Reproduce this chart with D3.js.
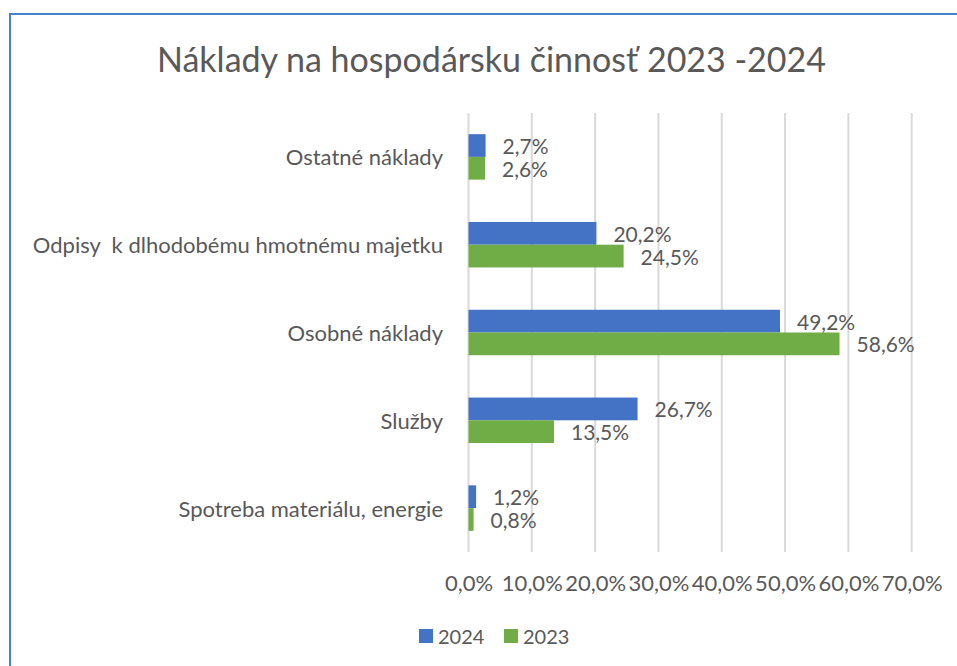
<!DOCTYPE html>
<html>
<head>
<meta charset="utf-8">
<script src="https://cdn.jsdelivr.net/npm/d3@7"></script>
<style>
  html, body { margin: 0; padding: 0; background: #fff; }
  svg { display: block; }
  text { font-family: Lato, "Open Sans", sans-serif; fill: #595959; }
</style>
</head>
<body>
<svg id="chart" width="957" height="666"></svg>
<script>
const title = "Náklady na hospodársku činnosť 2023 -2024";
const categories = [
  "Ostatné náklady",
  "Odpisy  k dlhodobému hmotnému majetku",
  "Osobné náklady",
  "Služby",
  "Spotreba materiálu, energie"
];
const seriesNames = ["2024", "2023"];
const values2024 = [2.7, 20.2, 49.2, 26.7, 1.2];
const values2023 = [2.6, 24.5, 58.6, 13.5, 0.8];
const tickValues = [0, 10, 20, 30, 40, 50, 60, 70];
const colors = ["#4472C4", "#70AD47"];

const svg = d3.select("#chart");
const fmt = v => d3.format(".1f")(v).replace(".", ",") + "%";

// chart border
svg.append("rect")
  .attr("x", 10).attr("y", 14)
  .attr("width", 1000).attr("height", 700)
  .attr("fill", "none")
  .attr("stroke", "#4483CC")
  .attr("stroke-width", 2);

const plot = { left: 468.5, right: 911.7, top: 113, bottom: 552 };

const x = d3.scaleLinear().domain([0, 70]).range([plot.left, plot.right]);
const y = d3.scaleBand().domain(categories).range([plot.top, plot.bottom]).paddingInner(0.482).paddingOuter(0.241);
const ySub = d3.scaleBand().domain(seriesNames).range([0, y.bandwidth()]);

// title
svg.append("text")
  .attr("x", 491.5).attr("y", 58)
  .attr("text-anchor", "middle")
  .attr("dominant-baseline", "central")
  .style("font-size", "34px")
  .text(title);

// gridlines
svg.append("g").selectAll("line")
  .data(tickValues)
  .join("line")
  .attr("x1", d => x(d)).attr("x2", d => x(d))
  .attr("y1", plot.top).attr("y2", plot.bottom)
  .attr("stroke", "#D9D9D9")
  .attr("stroke-width", 2);

// x axis tick labels
const xAxis = d3.axisBottom(x).tickValues(tickValues).tickFormat(fmt).tickSize(0).tickPadding(0);
const gx = svg.append("g").attr("transform", `translate(0, 582)`).call(xAxis);
gx.select(".domain").remove();
gx.selectAll("text")
  .attr("y", 0).attr("dy", null)
  .attr("dominant-baseline", "central")
  .style("font-size", "22px")
  .style("font-family", "Lato, 'Open Sans', sans-serif")
  .attr("fill", "#595959");

// category labels
const yAxis = d3.axisLeft(y).tickSize(0).tickPadding(0);
const gy = svg.append("g").attr("transform", `translate(443, 0)`).call(yAxis);
gy.select(".domain").remove();
gy.selectAll("text")
  .attr("x", 0).attr("dy", null)
  .attr("dominant-baseline", "central")
  .style("font-size", "22px")
  .style("font-family", "Lato, 'Open Sans', sans-serif")
  .style("white-space", "pre")
  .attr("fill", "#595959");

// bars
const data = [];
categories.forEach((c, i) => {
  data.push({ cat: c, series: "2024", value: values2024[i], color: colors[0] });
  data.push({ cat: c, series: "2023", value: values2023[i], color: colors[1] });
});

svg.append("g").selectAll("rect")
  .data(data)
  .join("rect")
  .attr("x", x(0))
  .attr("y", d => y(d.cat) + ySub(d.series))
  .attr("width", d => x(d.value) - x(0))
  .attr("height", ySub.bandwidth())
  .attr("fill", d => d.color);

// data labels
svg.append("g").selectAll("text")
  .data(data)
  .join("text")
  .attr("x", d => x(d.value) + 17)
  .attr("y", d => y(d.cat) + ySub(d.series) + ySub.bandwidth() / 2)
  .attr("dominant-baseline", "central")
  .style("font-size", "21px")
  .text(d => fmt(d.value));

// legend
const legend = svg.append("g");
const legendX = [419, 504];
seriesNames.forEach((s, i) => {
  legend.append("rect")
    .attr("x", legendX[i]).attr("y", 629)
    .attr("width", 14).attr("height", 14)
    .attr("fill", colors[i]);
  legend.append("text")
    .attr("x", legendX[i] + 19).attr("y", 636)
    .attr("dominant-baseline", "central")
    .style("font-size", "20px")
    .text(s);
});
</script>
</body>
</html>
